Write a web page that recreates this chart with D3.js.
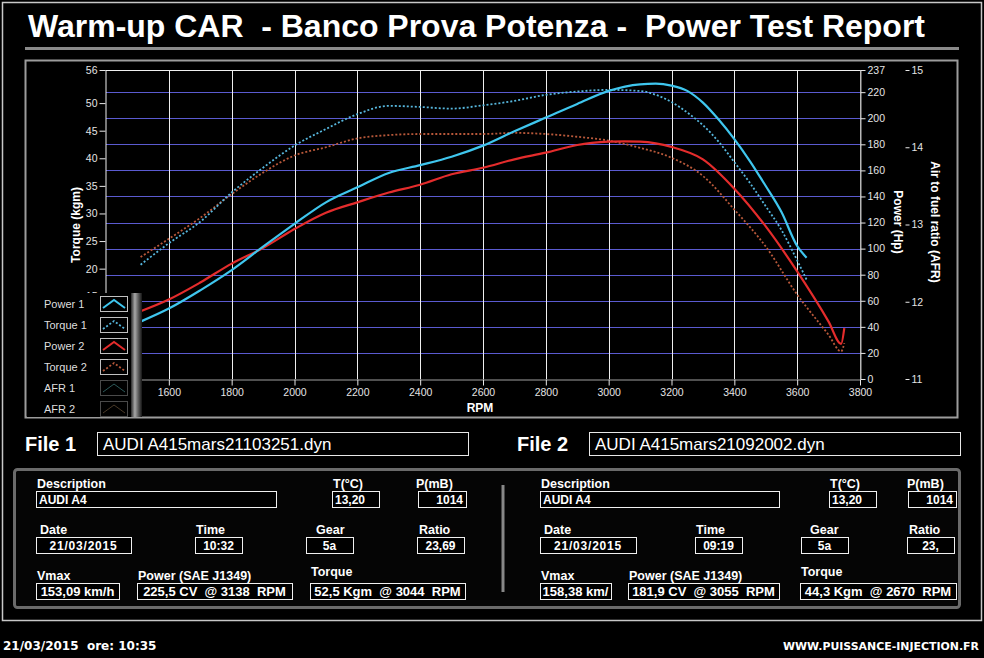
<!DOCTYPE html>
<html>
<head>
<meta charset="utf-8">
<script src="https://cdn.jsdelivr.net/npm/d3@7"></script>
<style>
  body { margin:0; background:#000; }
  svg { display:block; font-family:"Liberation Sans", Arial, sans-serif; }
  text { white-space: pre; }
</style>
</head>
<body>
<div id="chart"></div>
<script>
// DATA
var rpm1    = [1510,1600,1700,1800,1900,2000,2100,2200,2300,2400,2500,2600,2700,2800,2900,3000,3100,3150,3200,3250,3300,3350,3400,3450,3500,3550,3600,3630];
var power1  = [44,54,68,83.5,101.5,119,135.5,147,158,164,170.5,179,190,200.5,211,221,226,226.5,225,221,212,199,184,167,148,128,102,93];
var torque1 = [20.7,24.6,28.5,33.8,38.3,42.3,45.3,48.0,49.5,49.3,49.0,49.6,50.4,51.5,52.1,52.4,52.2,51.5,50.2,48.3,46.0,43.0,39.3,35.5,31.3,27.0,21.5,18.0];

var rpm2    = [1510,1600,1700,1800,1900,2000,2100,2200,2300,2400,2500,2600,2700,2800,2900,3000,3050,3100,3200,3300,3400,3500,3600,3700,3740,3750];
var power2  = [52,61,74,88.5,100.5,115,127.5,135.5,143,149,157,162,168.5,173.6,179.5,182,182.3,182,178,168.5,146,117,82.5,44,27,39];
var torque2 = [22.1,25.4,29.2,33.5,37.4,40.5,42.0,43.6,44.2,44.4,44.4,44.4,44.6,44.4,43.9,43.2,42.6,41.9,40.1,36.8,30.7,24.0,15.3,8.0,5.0,6.5];

var rpmTicks    = [1400,1600,1800,2000,2200,2400,2600,2800,3000,3200,3400,3600,3800];
var torqueTicks = [0,5,10,15,20,25,30,35,40,45,50,56];
var powerTicks  = [0,20,40,60,80,100,120,140,160,180,200,220,237];
var afrTicks    = [11,12,13,14,15];

var legendNames = ["Power 1","Torque 1","Power 2","Torque 2","AFR 1","AFR 2"];

var fileLabels  = ["File 1","File 2"];
var fileNames   = ["AUDI A415mars21103251.dyn","AUDI A415mars21092002.dyn"];
var descs       = ["AUDI A4","AUDI A4"];
var temps       = ["13,20","13,20"];
var pressures   = ["1014","1014"];
var dates       = ["21/03/2015","21/03/2015"];
var times       = ["10:32","09:19"];
var gears       = ["5a","5a"];
var ratios      = ["23,69","23,"];
var vmaxs       = ["153,09 km/h","158,38 km/"];
var powerPeaks  = ["225,5 CV  @ 3138  RPM","181,9 CV  @ 3055  RPM"];
var torquePeaks = ["52,5 Kgm  @ 3044  RPM","44,3 Kgm  @ 2670  RPM"];

var W = 984, H = 658;
var svg = d3.select("#chart").append("svg").attr("width", W).attr("height", H);

// PAGE FRAME + TITLE
svg.append("rect").attr("x",2.5).attr("y",2.5).attr("width",979).attr("height",618)
  .attr("fill","none").attr("stroke","#c8c8c8").attr("stroke-width",1.5);

svg.append("text").attr("x",28).attr("y",37)
  .attr("fill","#fff").attr("font-weight","bold").attr("font-size",31)
  .attr("textLength",897).attr("lengthAdjust","spacingAndGlyphs")
  .text("Warm-up CAR  - Banco Prova Potenza -  Power Test Report");

svg.append("rect").attr("x",25).attr("y",47).attr("width",934).attr("height",3).attr("fill","#8a8a8a");

// chart panel
svg.append("rect").attr("x",25.5).attr("y",60.5).attr("width",932).attr("height",357)
  .attr("fill","#000").attr("stroke","#9c9c9c").attr("stroke-width",2);

// SCALES
var plot = {left:106, right:860, top:70, bottom:379};
var x = d3.scaleLinear().domain([1400,3800]).range([plot.left, plot.right]);
var yT = d3.scaleLinear().domain([0,56]).range([plot.bottom, plot.top]);
var yP = d3.scaleLinear().domain([0,237]).range([plot.bottom, plot.top]);
var yA = d3.scaleLinear().domain([11,15]).range([plot.bottom, plot.top]);

var g = svg.append("g");

// grid
g.selectAll("line.hgrid").data(powerTicks.filter(function(d){ return d > 0 && d < 237; }))
  .enter().append("line").attr("class","hgrid")
  .attr("x1",plot.left).attr("x2",plot.right)
  .attr("y1",function(d){ return Math.round(yP(d))+0.5; })
  .attr("y2",function(d){ return Math.round(yP(d))+0.5; })
  .attr("stroke","#5a5ad0").attr("stroke-width",1);

g.selectAll("line.vgrid").data(rpmTicks.filter(function(d){ return d > 1400 && d < 3800; }))
  .enter().append("line").attr("class","vgrid")
  .attr("x1",function(d){ return Math.round(x(d))+0.5; })
  .attr("x2",function(d){ return Math.round(x(d))+0.5; })
  .attr("y1",plot.top).attr("y2",plot.bottom)
  .attr("stroke","#eeeeee").attr("stroke-width",1);

// border lines of the plot
g.append("line").attr("x1",plot.left-0.5).attr("x2",plot.right).attr("y1",plot.top+0.5).attr("y2",plot.top+0.5).attr("stroke","#f0f0f0");
g.append("line").attr("x1",plot.right+0.5).attr("x2",plot.right+0.5).attr("y1",plot.top).attr("y2",plot.bottom).attr("stroke","#b8b8b8");

// AXES
function styleAxis(sel, domainColor) {
  sel.selectAll("text").attr("fill","#e4e4e4").attr("font-size",10.5).attr("font-family","Liberation Sans, Arial, sans-serif");
  sel.selectAll(".tick line").attr("stroke","#e8e8e8");
  sel.select(".domain").attr("stroke", domainColor);
}

var xAxis = svg.append("g").attr("transform","translate(0,"+(plot.bottom+0.5)+")")
  .call(d3.axisBottom(x).tickValues(rpmTicks).tickSize(6).tickPadding(3).tickSizeOuter(0)
    .tickFormat(function(d){ return d === 1400 ? "" : d; }));
styleAxis(xAxis, "#a0a0a0");

var leftAxis = svg.append("g").attr("transform","translate("+(plot.left-0.5)+",0)")
  .call(d3.axisLeft(yT).tickValues(torqueTicks).tickSize(6).tickPadding(2).tickSizeOuter(0));
styleAxis(leftAxis, "#f0f0f0");

var rightAxis = svg.append("g").attr("transform","translate("+(plot.right+0.5)+",0)")
  .call(d3.axisRight(yP).tickValues(powerTicks).tickSize(5).tickPadding(2).tickSizeOuter(0));
styleAxis(rightAxis, "#b8b8b8");

var afrAxis = svg.append("g").attr("transform","translate(905.5,0)")
  .call(d3.axisRight(yA).tickValues(afrTicks).tickSize(4).tickPadding(2).tickFormat(d3.format("d")));
styleAxis(afrAxis, "none");

// axis titles
svg.append("text").attr("transform","translate(80,225) rotate(-90)").attr("text-anchor","middle")
  .attr("fill","#fff").attr("font-weight","bold").attr("font-size",12).text("Torque (kgm)");
svg.append("text").attr("transform","translate(894,222) rotate(90)").attr("text-anchor","middle")
  .attr("fill","#fff").attr("font-weight","bold").attr("font-size",12).text("Power (Hp)");
svg.append("text").attr("transform","translate(931,222) rotate(90)").attr("text-anchor","middle")
  .attr("fill","#fff").attr("font-weight","bold").attr("font-size",12).text("Air to fuel ratio (AFR)");
svg.append("text").attr("x",480).attr("y",412).attr("text-anchor","middle")
  .attr("fill","#fff").attr("font-weight","bold").attr("font-size",12).text("RPM");

// CURVES
svg.append("clipPath").attr("id","plotclip").append("rect")
  .attr("x",plot.left).attr("y",plot.top).attr("width",plot.right-plot.left+1).attr("height",plot.bottom-plot.top);

var series = [
  {name:"Torque 2", rpm:rpm2, vals:torque2, y:yT, color:"#b8583a", width:1.8, dash:"2,2"},
  {name:"Torque 1", rpm:rpm1, vals:torque1, y:yT, color:"#56b6dc", width:1.8, dash:"2,2"},
  {name:"Power 2",  rpm:rpm2, vals:power2,  y:yP, color:"#e42c2c", width:2.2, dash:null},
  {name:"Power 1",  rpm:rpm1, vals:power1,  y:yP, color:"#3fc6ee", width:2.2, dash:null}
];

var curves = svg.append("g").attr("clip-path","url(#plotclip)");
series.forEach(function(s) {
  var line = d3.line()
    .x(function(d){ return x(d[0]); })
    .y(function(d){ return s.y(d[1]); })
    .curve(d3.curveMonotoneX);
  curves.append("path")
    .datum(s.rpm.map(function(r,i){ return [r, s.vals[i]]; }))
    .attr("d", line)
    .attr("fill","none")
    .attr("stroke", s.color)
    .attr("stroke-width", s.width)
    .attr("stroke-dasharray", s.dash);
});

// LEGEND
var defs = svg.append("defs");
var lg = defs.append("linearGradient").attr("id","legbar");
lg.append("stop").attr("offset","0").attr("stop-color","#2a2a2a");
lg.append("stop").attr("offset","0.35").attr("stop-color","#a8a8a8");
lg.append("stop").attr("offset","0.7").attr("stop-color","#555");
lg.append("stop").attr("offset","1").attr("stop-color","#151515");

var legendStyles = [
  {color:"#3fc6ee", dash:null,  width:2,   border:"#c0c0c0"},
  {color:"#56b6dc", dash:"2,2", width:1.8, border:"#c0c0c0"},
  {color:"#e42c2c", dash:null,  width:2,   border:"#c0c0c0"},
  {color:"#b8583a", dash:"2,2", width:1.8, border:"#c0c0c0"},
  {color:"#2c5a5a", dash:null,  width:1,   border:"#4a4a4a"},
  {color:"#4a3a28", dash:null,  width:1,   border:"#4a4a4a"}
];

var legend = svg.append("g");
legend.append("rect").attr("x",27).attr("y",293).attr("width",105).attr("height",124).attr("fill","#000");
legend.append("rect").attr("x",131).attr("y",293).attr("width",11).attr("height",124).attr("fill","url(#legbar)");

var items = legend.selectAll("g.item").data(legendNames).enter().append("g").attr("class","item")
  .attr("transform", function(d,i){ return "translate(0," + (304 + i*21) + ")"; });
items.append("text").attr("x",44).attr("y",4).attr("fill","#dedede").attr("font-size",11).text(function(d){ return d; });
items.append("rect").attr("x",100.5).attr("y",-7.5).attr("width",27).attr("height",15)
  .attr("fill","#000").attr("stroke",function(d,i){ return legendStyles[i].border; });
items.append("polyline").attr("points","103,4 114,-4 125,4").attr("fill","none")
  .attr("stroke",function(d,i){ return legendStyles[i].color; })
  .attr("stroke-width",function(d,i){ return legendStyles[i].width; })
  .attr("stroke-dasharray",function(d,i){ return legendStyles[i].dash; });

// FILE HEADERS
var headerX = [{label:25, box:97, boxW:371}, {label:517, box:589, boxW:371}];
fileLabels.forEach(function(f,i) {
  var hx = headerX[i];
  svg.append("text").attr("x",hx.label).attr("y",451).attr("fill","#fff")
    .attr("font-weight","bold").attr("font-size",20).text(f);
  svg.append("rect").attr("x",hx.box+0.5).attr("y",432.5).attr("width",hx.boxW).attr("height",23)
    .attr("fill","#000").attr("stroke","#e8e8e8");
  svg.append("text").attr("x",hx.box+6).attr("y",450).attr("fill","#fff")
    .attr("font-size",17).text(fileNames[i]);
});

// INFO PANEL
svg.append("rect").attr("x",14.5).attr("y",469.5).attr("width",945).attr("height",138).attr("rx",3)
  .attr("fill","#050505").attr("stroke","#6a6a6a").attr("stroke-width",3);
svg.append("line").attr("x1",503).attr("x2",503).attr("y1",485).attr("y2",592)
  .attr("stroke","#888").attr("stroke-width",3);

// field layout: [box x, box width, label dx, value alignment]
var layouts = [
  {desc:[36,240,1], t:[332,47,1], p:[418,48,-2], date:[36,95,4], time:[195,47,1], gear:[306,47,10], ratio:[417,47,2], vmax:[36,83,1], power:[137,155,1], torque:[310,155,1]},
  {desc:[540,239,1], t:[829,47,1], p:[908,48,-1], date:[540,96,4], time:[695,47,1], gear:[801,47,9], ratio:[907,47,2], vmax:[540,71,1], power:[628,151,1], torque:[800,156,1]}
];
var rows = {1:{label:488, box:491}, 2:{label:534, box:537}, 3:{label:580, box:583}};

function field(lay, label, value, row, align, fs, labelDy) {
  var bx = lay[0], bw = lay[1], r = rows[row];
  svg.append("text").attr("x",bx+lay[2]).attr("y",r.label + (labelDy||0)).attr("fill","#fff")
    .attr("font-weight","bold").attr("font-size",12.5).text(label);
  svg.append("rect").attr("x",bx+0.5).attr("y",r.box+0.5).attr("width",bw).attr("height",16)
    .attr("fill","#000").attr("stroke","#f0f0f0");
  var tx = align === "start" ? bx+3 : align === "end" ? bx+bw-3 : bx+bw/2;
  svg.append("text").attr("x",tx).attr("y",r.box+13).attr("text-anchor",align)
    .attr("fill","#fff").attr("font-weight","bold").attr("font-size",fs)
    .attr("letter-spacing", row === 2 && label === "Date" ? 0.8 : 0)
    .text(value);
}

layouts.forEach(function(L,i) {
  field(L.desc,  "Description", descs[i], 1, "start", 12);
  field(L.t,     "T(°C)", temps[i], 1, "start", 12);
  field(L.p,     "P(mB)", pressures[i], 1, "end", 12);
  field(L.date,  "Date", dates[i], 2, "middle", 12);
  field(L.time,  "Time", times[i], 2, "middle", 12);
  field(L.gear,  "Gear", gears[i], 2, "middle", 12);
  field(L.ratio, "Ratio", ratios[i], 2, "middle", 12);
  field(L.vmax,  "Vmax", vmaxs[i], 3, "middle", 13);
  field(L.power, "Power (SAE J1349)", powerPeaks[i], 3, "middle", 13);
  field(L.torque,"Torque", torquePeaks[i], 3, "middle", 13, -4);
});

// FOOTER
svg.append("text").attr("x",3).attr("y",650).attr("fill","#fff")
  .attr("font-family","DejaVu Sans, sans-serif").attr("font-weight","bold").attr("font-size",12)
  .text("21/03/2015  ore: 10:35");
svg.append("text").attr("x",979).attr("y",650).attr("text-anchor","end").attr("fill","#fff")
  .attr("font-family","DejaVu Sans, sans-serif").attr("font-weight","bold").attr("font-size",11)
  .attr("textLength",196).attr("lengthAdjust","spacingAndGlyphs")
  .text("WWW.PUISSANCE-INJECTION.FR");
</script>
</body>
</html>
